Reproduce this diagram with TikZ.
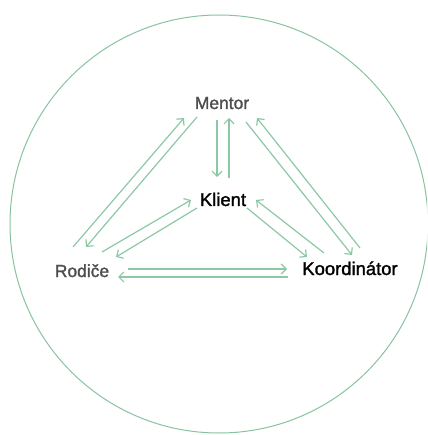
\documentclass[tikz,border=0pt]{standalone}
\usepackage{fontspec}
\setmainfont{Liberation Sans}
\newfontfamily\rolefont[FakeBold=1.5]{Liberation Sans}
\usepackage{xcolor}
\usepackage{tikz}
\usetikzlibrary{arrows.meta}
\definecolor{linkgreen}{HTML}{8CC8A4}
\definecolor{ringgreen}{HTML}{88C3A0}
\definecolor{labelgray}{HTML}{4D4D4D}

\begin{document}
\begin{tikzpicture}[
    x=1bp, y=-1bp,
    role/.style={anchor=base, inner sep=0pt, font=\rolefont\fontsize{17.5}{20}\selectfont, text=labelgray},
    person/.style={role, font=\rolefont\fontsize{18.5}{21}\selectfont, text=black},
    arrow/.style={-{Straight Barb[length=5bp,width=10bp]}, line width=1.2bp, draw=linkgreen},
]
\useasboundingbox (0,0) rectangle (427,435);
\clip (0,0) rectangle (427,435);
\draw[ringgreen, line width=1bp] (219,224) circle[radius=209];

\node[role]   (men) at (222,109) {Mentor};
\node[person] (kli) at (223,206) {Klient};
\node[role]   (rod) at (82,277)  {Rodiče};
\node[person] (koo) at (350,275) {Koordinátor};

% Each pair is linked by two opposite arrows.
\draw[arrow] ([shift={(-9,-30)}]rod.base) -- ([shift={(-38,9)}]men.base);
\draw[arrow] ([shift={(-25,8)}]men.base) -- ([shift={(4,-30)}]rod.base);
\draw[arrow] ([shift={(-5,11)}]men.base) -- ([shift={(-6,-29)}]kli.base);
\draw[arrow] ([shift={(6,-28)}]kli.base) -- ([shift={(7,9)}]men.base);
\draw[arrow] ([shift={(24,13)}]men.base) -- ([shift={(2,-20)}]koo.base);
\draw[arrow] ([shift={(10,-27)}]koo.base) -- ([shift={(35,9)}]men.base);
\draw[arrow] ([shift={(20,-25)}]rod.base) -- ([shift={(-32,-6)}]kli.base);
\draw[arrow] ([shift={(-26,2)}]kli.base) -- ([shift={(34,-20)}]rod.base);
\draw[arrow] ([shift={(24,2)}]kli.base) -- ([shift={(-43,-18)}]koo.base);
\draw[arrow] ([shift={(-26,-22)}]koo.base) -- ([shift={(33,-6)}]kli.base);
\draw[arrow] ([shift={(46,-8)}]rod.base) -- ([shift={(-63,-6)}]koo.base);
\draw[arrow] ([shift={(-62,2)}]koo.base) -- ([shift={(36,0)}]rod.base);
\end{tikzpicture}
\end{document}
